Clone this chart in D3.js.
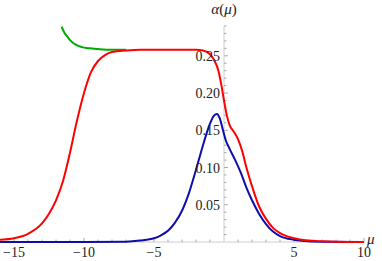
<!DOCTYPE html>
<html>
<head>
<meta charset="utf-8">
<script src="https://cdn.jsdelivr.net/npm/d3@7"></script>
<style>
  body { margin: 0; background: #fff; }
  svg { display: block; }
  .tick-label { font-family: "Liberation Serif", serif; font-size: 14px; fill: #222; }
</style>
</head>
<body>
<svg id="chart" width="382" height="261"></svg>
<script>
// red curve
var redMu  = [-16, -15, -14, -13, -12.5, -12, -11.5, -11, -10.5, -10, -9.5, -9, -8.5, -8, -7, -6, -4, -2, -1.5, -1, -0.7, -0.4, -0.2, 0, 0.2, 0.4, 0.7, 1, 1.3, 1.6, 2, 2.5, 3, 3.5, 4, 5, 6, 7, 8, 10];
var redVal = [0.003, 0.005, 0.011, 0.025, 0.038, 0.056, 0.082, 0.12, 0.163, 0.2, 0.228, 0.243, 0.251, 0.255, 0.257, 0.258, 0.258, 0.258, 0.257, 0.252, 0.244, 0.23, 0.212, 0.19, 0.17, 0.157, 0.148, 0.138, 0.122, 0.1, 0.075, 0.048, 0.031, 0.019, 0.012, 0.005, 0.002, 0.001, 0.0004, 0];
// blue curve
var blueMu  = [-16, -10, -7, -6, -5, -4.5, -4, -3.5, -3, -2.5, -2, -1.5, -1, -0.7, -0.5, -0.3, -0.1, 0.1, 0.4, 0.8, 1.2, 1.6, 2, 2.5, 3, 3.5, 4, 5, 6, 7, 10];
var blueVal = [0, 0, 0.0005, 0.002, 0.005, 0.009, 0.015, 0.026, 0.042, 0.066, 0.097, 0.13, 0.159, 0.17, 0.172, 0.166, 0.152, 0.138, 0.125, 0.11, 0.093, 0.073, 0.056, 0.038, 0.024, 0.014, 0.008, 0.003, 0.001, 0.0004, 0];
// green curve
var greenMu  = [-11.6, -11.4, -11.2, -11, -10.6, -10.2, -9.6, -9, -8, -7];
var greenVal = [0.289, 0.281, 0.276, 0.271, 0.265, 0.262, 0.26, 0.259, 0.258, 0.258];

var xMajor = [-15, -10, -5, 5, 10];
var yMajor = [0.05, 0.10, 0.15, 0.20, 0.25];

var svg = d3.select("#chart");

var x = d3.scaleLinear().domain([-16, 10]).range([0, 364]);
var y = d3.scaleLinear().domain([0, 0.29]).range([242, 26]);

var axisColor = "#aaa";

// x axis line
svg.append("line")
    .attr("x1", x(-16)).attr("x2", x(10))
    .attr("y1", y(0)).attr("y2", y(0))
    .attr("stroke", "#ccc").attr("stroke-width", 1);
// y axis line
svg.append("line")
    .attr("x1", x(0)).attr("x2", x(0))
    .attr("y1", y(0)).attr("y2", y(0.29))
    .attr("stroke", "#ccc").attr("stroke-width", 1);

// x ticks (point up)
d3.range(-16, 11, 1).forEach(function(v) {
    if (v === 0) return;
    var major = v % 5 === 0;
    svg.append("line")
        .attr("x1", x(v)).attr("x2", x(v))
        .attr("y1", y(0)).attr("y2", y(0) - (major ? 4 : 2.5))
        .attr("stroke", axisColor).attr("stroke-width", 1);
});
// y ticks (point right)
d3.range(1, 30, 1).forEach(function(i) {
    var v = i / 100;
    var major = i % 5 === 0;
    svg.append("line")
        .attr("x1", x(0)).attr("x2", x(0) + (major ? 4 : 2.5))
        .attr("y1", y(v)).attr("y2", y(v))
        .attr("stroke", axisColor).attr("stroke-width", 1);
});

var line = d3.line()
    .x(function(d) { return x(d[0]); })
    .y(function(d) { return y(d[1]); })
    .curve(d3.curveMonotoneX);

function draw(mu, val, color) {
    svg.append("path")
        .datum(d3.zip(mu, val))
        .attr("d", line)
        .attr("fill", "none")
        .attr("stroke", color)
        .attr("stroke-width", 2);
}

draw(greenMu, greenVal, "#00aa00");
draw(blueMu, blueVal, "#0d0dae");
draw(redMu, redVal, "#ff0000");

// tick labels
svg.selectAll(".xl").data(xMajor).enter().append("text")
    .attr("class", "tick-label")
    .attr("x", function(d) { return x(d); })
    .attr("y", 257)
    .attr("text-anchor", "middle")
    .text(function(d) { return d < 0 ? "\u2212" + (-d) : d; });

svg.selectAll(".yl").data(yMajor).enter().append("text")
    .attr("class", "tick-label")
    .attr("x", 220)
    .attr("y", function(d) { return y(d) + 5; })
    .attr("text-anchor", "end")
    .text(function(d) { return d.toFixed(2); });

// axis labels
var ylab = svg.append("text")
    .attr("x", x(0))
    .attr("y", 14)
    .attr("text-anchor", "middle")
    .attr("font-family", "Liberation Serif, serif")
    .attr("font-size", 15)
    .attr("fill", "#222");
ylab.append("tspan").attr("font-style", "italic").text("\u03b1");
ylab.append("tspan").text("(");
ylab.append("tspan").attr("font-style", "italic").text("\u03bc");
ylab.append("tspan").text(")");

svg.append("text")
    .attr("x", 367)
    .attr("y", 244)
    .attr("font-family", "Liberation Serif, serif")
    .attr("font-size", 15)
    .attr("font-style", "italic")
    .attr("fill", "#222")
    .text("\u03bc");
</script>
</body>
</html>
